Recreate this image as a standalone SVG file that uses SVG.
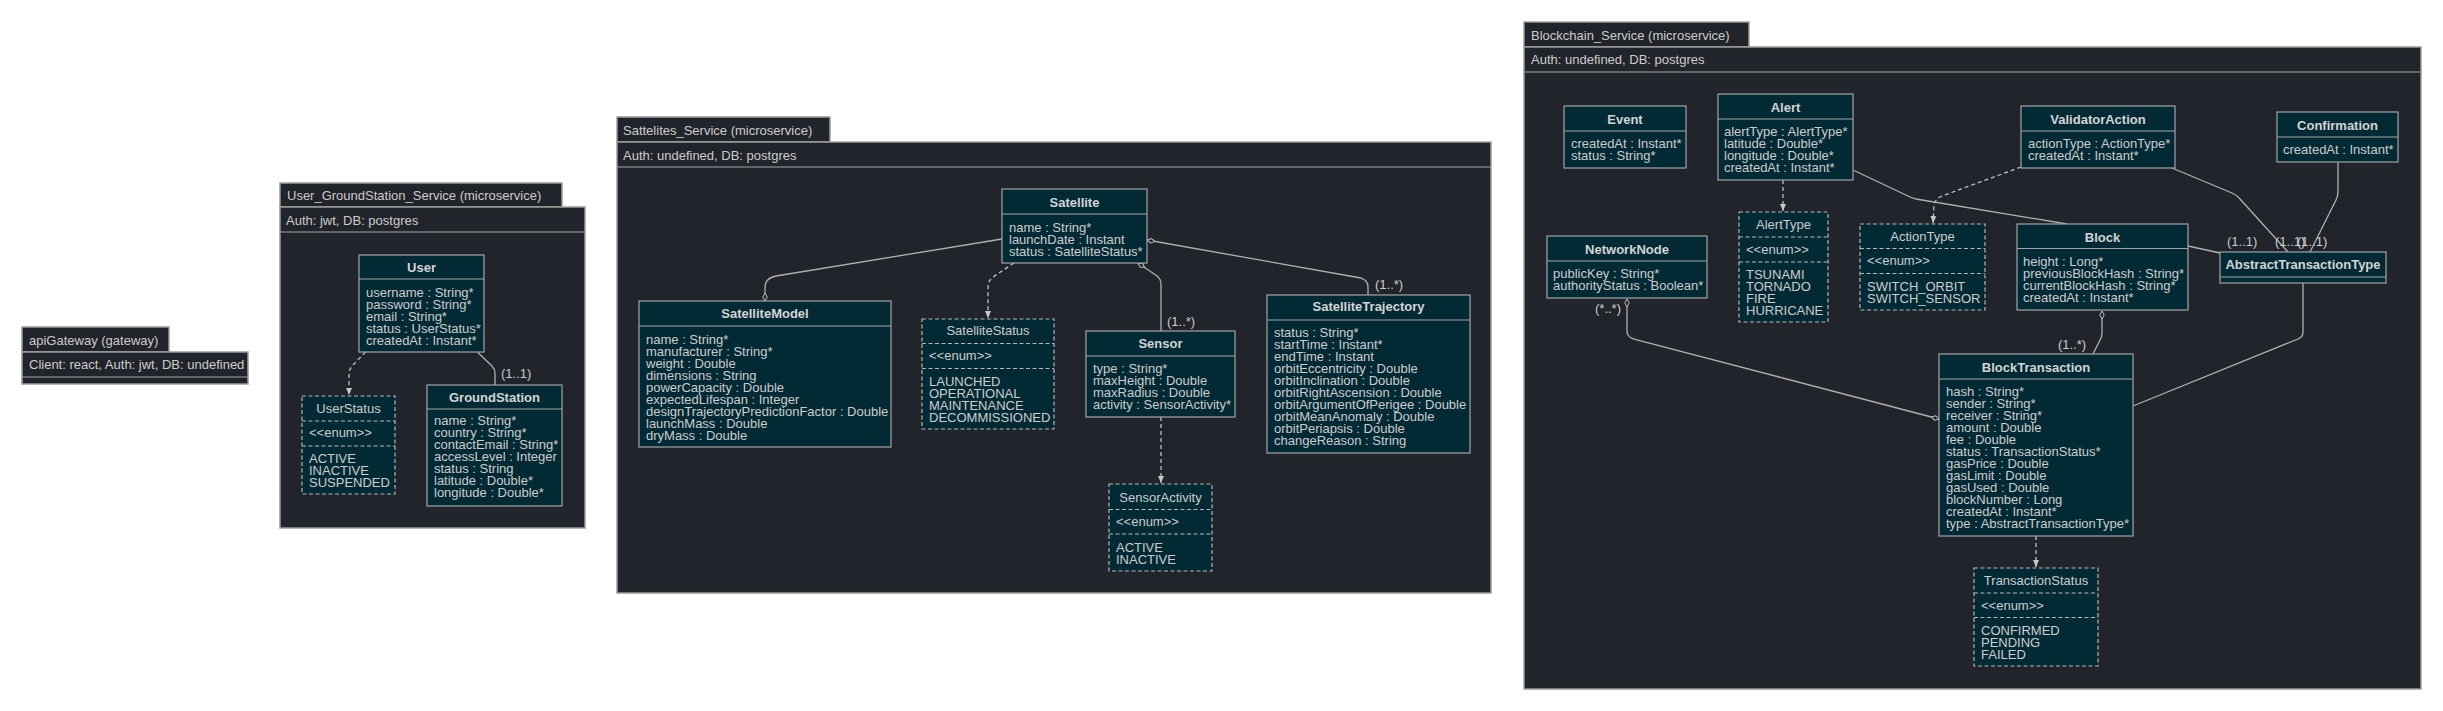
<svg xmlns="http://www.w3.org/2000/svg" width="2443" height="711" viewBox="0 0 2443 711">
<defs>
<style>
text{font-family:"Liberation Sans",Arial,sans-serif;font-size:13px;fill:#cccccc}
.pkg{fill:#22242b;stroke:#9c9c9c;stroke-width:1.5}
.cls{fill:#022a35;stroke:#a3a3a3;stroke-width:1.2}
.enm{fill:#022a35;stroke:#b5b5b5;stroke-width:1.2;stroke-dasharray:4 2.5}
.sep{stroke:#a3a3a3;stroke-width:1.2}
.sepd{stroke:#b5b5b5;stroke-width:1.2;stroke-dasharray:4 2.5}
.t{font-weight:bold;text-anchor:middle;fill:#d4d4d4}
.et{text-anchor:middle}
.c{fill:none;stroke:#b0b0b0;stroke-width:1.3}
.d{fill:none;stroke:#c0c0c0;stroke-width:1.3;stroke-dasharray:4 3}
</style>
<marker id="dS" markerUnits="userSpaceOnUse" markerWidth="9" markerHeight="6" viewBox="0 0 9 6" refX="0.5" refY="3" orient="auto"><path d="M0.5,3 L4.5,0.8 L8.5,3 L4.5,5.2 Z" fill="#22242b" stroke="#c0c0c0" stroke-width="1"/></marker>
<marker id="dE" markerUnits="userSpaceOnUse" markerWidth="9" markerHeight="6" viewBox="0 0 9 6" refX="8.5" refY="3" orient="auto"><path d="M0.5,3 L4.5,0.8 L8.5,3 L4.5,5.2 Z" fill="#22242b" stroke="#c0c0c0" stroke-width="1"/></marker>
<marker id="ar" markerUnits="userSpaceOnUse" markerWidth="8" markerHeight="7" viewBox="0 0 8 7" refX="7" refY="3.5" orient="auto"><path d="M0,0.5 L7,3.5 L0,6.5 Z" fill="#c8c8c8"/></marker>
</defs>

<g id="apiGateway">
<rect class="pkg" x="22" y="327" width="147" height="25"/>
<rect class="pkg" x="22" y="352" width="226" height="32"/>
<line class="sep" x1="22" y1="377" x2="248" y2="377"/>
<text x="29" y="345">apiGateway (gateway)</text>
<text x="29" y="369">Client: react, Auth: jwt, DB: undefined</text>
</g>

<g id="User_GroundStation_Service">
<rect class="pkg" x="280" y="183" width="282" height="24"/>
<rect class="pkg" x="280" y="207" width="305" height="321"/>
<line class="sep" x1="280" y1="232" x2="585" y2="232"/>
<text x="287" y="200">User_GroundStation_Service (microservice)</text>
<text x="286" y="225">Auth: jwt, DB: postgres</text>
</g>

<g id="Sattelites_Service">
<rect class="pkg" x="617" y="117" width="213" height="25"/>
<rect class="pkg" x="617" y="142" width="874" height="451"/>
<line class="sep" x1="617" y1="167" x2="1491" y2="167"/>
<text x="623" y="135">Sattelites_Service (microservice)</text>
<text x="623" y="160">Auth: undefined, DB: postgres</text>
</g>

<g id="Blockchain_Service">
<rect class="pkg" x="1524" y="22" width="225" height="25"/>
<rect class="pkg" x="1524" y="47" width="897" height="642"/>
<line class="sep" x1="1524" y1="72" x2="2421" y2="72"/>
<text x="1531" y="40">Blockchain_Service (microservice)</text>
<text x="1531" y="64">Auth: undefined, DB: postgres</text>
</g>

<g id="connectors">
<path class="d" d="M365.5,352 L352,366 Q349,370 349,375 L349,395" marker-end="url(#ar)"/>
<path class="c" d="M477.6,352.3 L492,366 Q495,369 495,373 L495,385"/>
<text x="501" y="378">(1..1)</text>
<path class="c" d="M765,301 L765,288 Q765,278 776,276 L1002,239" marker-start="url(#dS)"/>
<path class="d" d="M1014,263 L993,277 Q988,281 988,287 L988,318" marker-end="url(#ar)"/>
<path class="c" d="M1138,263 L1157,276 Q1161,279 1161,284 L1161,331" marker-start="url(#dS)"/>
<text x="1167" y="326">(1..*)</text>
<path class="c" d="M1147,240 L1361,278 Q1368,280 1368,287 L1368,295" marker-start="url(#dS)"/>
<text x="1375" y="289">(1..*)</text>
<path class="d" d="M1161,417 L1161,483" marker-end="url(#ar)"/>
<path class="d" d="M1783,180 L1783,211" marker-end="url(#ar)"/>
<path class="d" d="M2021,167 L1942,196 Q1935,199 1934,205 L1933,223" marker-end="url(#ar)"/>
<path class="c" d="M1853,170 L1908,196 Q1912,198 1916,199 L2067,224"/>
<path class="c" d="M2172,168 L2232,193 Q2237,195 2240,199 L2288,252"/>
<text x="2275" y="246">(1..1)</text>
<path class="c" d="M2338,162 L2338,191 Q2338,196 2336,200 L2310,252"/>
<text x="2297" y="246">(1..1)</text>
<path class="c" d="M2188,246 L2220,253"/>
<text x="2227" y="246">(1..1)</text>
<path class="c" d="M2102,311 L2102,333 Q2102,337 2100,340 L2093,354" marker-start="url(#dS)"/>
<text x="2058" y="348.5">(1..*)</text>
<path class="c" d="M2303,283 L2303,332 Q2303,337 2298,339 L2133,406"/>
<path class="c" d="M1627,299 L1627,331 Q1627,337 1634,339 L1939,419" marker-start="url(#dS)" marker-end="url(#dE)"/>
<text x="1595" y="313">(*..*)</text>
<path class="d" d="M2036,536 L2036,567" marker-end="url(#ar)"/>
</g>

<g id="User">
<rect class="cls" x="359" y="255" width="125" height="97"/>
<line class="sep" x1="359" y1="279" x2="484" y2="279"/>
<text class="t" x="421.5" y="272">User</text>
<text x="366" y="297">username : String*</text>
<text x="366" y="309">password : String*</text>
<text x="366" y="321">email : String*</text>
<text x="366" y="333">status : UserStatus*</text>
<text x="366" y="345">createdAt : Instant*</text>
</g>

<g id="UserStatus">
<rect class="enm" x="302" y="396" width="93" height="98"/>
<line class="sepd" x1="302" y1="421" x2="395" y2="421"/>
<line class="sepd" x1="302" y1="446" x2="395" y2="446"/>
<text class="et" x="348.5" y="412.5">UserStatus</text>
<text x="309" y="437">&lt;&lt;enum&gt;&gt;</text>
<text x="309" y="463">ACTIVE</text>
<text x="309" y="475">INACTIVE</text>
<text x="309" y="487">SUSPENDED</text>
</g>

<g id="GroundStation">
<rect class="cls" x="427" y="385" width="135" height="121"/>
<line class="sep" x1="427" y1="409" x2="562" y2="409"/>
<text class="t" x="494.5" y="402">GroundStation</text>
<text x="434" y="425">name : String*</text>
<text x="434" y="437">country : String*</text>
<text x="434" y="449">contactEmail : String*</text>
<text x="434" y="461">accessLevel : Integer</text>
<text x="434" y="473">status : String</text>
<text x="434" y="485">latitude : Double*</text>
<text x="434" y="497">longitude : Double*</text>
</g>

<g id="Satellite">
<rect class="cls" x="1002" y="189" width="145" height="74"/>
<line class="sep" x1="1002" y1="214" x2="1147" y2="214"/>
<text class="t" x="1074.5" y="207">Satellite</text>
<text x="1009" y="232">name : String*</text>
<text x="1009" y="244">launchDate : Instant</text>
<text x="1009" y="256">status : SatelliteStatus*</text>
</g>

<g id="SatelliteModel">
<rect class="cls" x="639" y="301" width="252" height="146"/>
<line class="sep" x1="639" y1="326" x2="891" y2="326"/>
<text class="t" x="765" y="317.5">SatelliteModel</text>
<text x="646" y="343.5">name : String*</text>
<text x="646" y="355.5">manufacturer : String*</text>
<text x="646" y="367.5">weight : Double</text>
<text x="646" y="379.5">dimensions : String</text>
<text x="646" y="391.5">powerCapacity : Double</text>
<text x="646" y="403.5">expectedLifespan : Integer</text>
<text x="646" y="415.5">designTrajectoryPredictionFactor : Double</text>
<text x="646" y="427.5">launchMass : Double</text>
<text x="646" y="439.5">dryMass : Double</text>
</g>

<g id="SatelliteStatus">
<rect class="enm" x="922" y="319" width="132" height="110"/>
<line class="sepd" x1="922" y1="343.5" x2="1054" y2="343.5"/>
<line class="sepd" x1="922" y1="368.5" x2="1054" y2="368.5"/>
<text class="et" x="988" y="335">SatelliteStatus</text>
<text x="929" y="360">&lt;&lt;enum&gt;&gt;</text>
<text x="929" y="385.5">LAUNCHED</text>
<text x="929" y="397.5">OPERATIONAL</text>
<text x="929" y="409.5">MAINTENANCE</text>
<text x="929" y="421.5">DECOMMISSIONED</text>
</g>

<g id="Sensor">
<rect class="cls" x="1086" y="331" width="149" height="86"/>
<line class="sep" x1="1086" y1="356" x2="1235" y2="356"/>
<text class="t" x="1160.5" y="347.5">Sensor</text>
<text x="1093" y="372.5">type : String*</text>
<text x="1093" y="384.5">maxHeight : Double</text>
<text x="1093" y="396.5">maxRadius : Double</text>
<text x="1093" y="408.5">activity : SensorActivity*</text>
</g>

<g id="SensorActivity">
<rect class="enm" x="1109" y="484" width="103" height="87"/>
<line class="sepd" x1="1109" y1="509.5" x2="1212" y2="509.5"/>
<line class="sepd" x1="1109" y1="534" x2="1212" y2="534"/>
<text class="et" x="1160.5" y="502">SensorActivity</text>
<text x="1116" y="526">&lt;&lt;enum&gt;&gt;</text>
<text x="1116" y="551.5">ACTIVE</text>
<text x="1116" y="563.5">INACTIVE</text>
</g>

<g id="SatelliteTrajectory">
<rect class="cls" x="1267" y="295" width="203" height="158"/>
<line class="sep" x1="1267" y1="320" x2="1470" y2="320"/>
<text class="t" x="1368.5" y="311">SatelliteTrajectory</text>
<text x="1274" y="337">status : String*</text>
<text x="1274" y="349">startTime : Instant*</text>
<text x="1274" y="361">endTime : Instant</text>
<text x="1274" y="373">orbitEccentricity : Double</text>
<text x="1274" y="385">orbitInclination : Double</text>
<text x="1274" y="397">orbitRightAscension : Double</text>
<text x="1274" y="409">orbitArgumentOfPerigee : Double</text>
<text x="1274" y="421">orbitMeanAnomaly : Double</text>
<text x="1274" y="433">orbitPeriapsis : Double</text>
<text x="1274" y="445">changeReason : String</text>
</g>

<g id="Event">
<rect class="cls" x="1564" y="106" width="122" height="62"/>
<line class="sep" x1="1564" y1="131" x2="1686" y2="131"/>
<text class="t" x="1625" y="124">Event</text>
<text x="1571" y="148">createdAt : Instant*</text>
<text x="1571" y="160">status : String*</text>
</g>

<g id="Alert">
<rect class="cls" x="1718" y="94" width="135" height="86"/>
<line class="sep" x1="1718" y1="119" x2="1853" y2="119"/>
<text class="t" x="1785.5" y="112">Alert</text>
<text x="1724" y="136">alertType : AlertType*</text>
<text x="1724" y="148">latitude : Double*</text>
<text x="1724" y="160">longitude : Double*</text>
<text x="1724" y="172">createdAt : Instant*</text>
</g>

<g id="AlertType">
<rect class="enm" x="1739" y="212" width="89" height="110"/>
<line class="sepd" x1="1739" y1="237" x2="1828" y2="237"/>
<line class="sepd" x1="1739" y1="262" x2="1828" y2="262"/>
<text class="et" x="1783.5" y="229">AlertType</text>
<text x="1746" y="253.5">&lt;&lt;enum&gt;&gt;</text>
<text x="1746" y="278.5">TSUNAMI</text>
<text x="1746" y="290.5">TORNADO</text>
<text x="1746" y="302.5">FIRE</text>
<text x="1746" y="314.5">HURRICANE</text>
</g>

<g id="ActionType">
<rect class="enm" x="1860" y="224" width="125" height="86"/>
<line class="sepd" x1="1860" y1="248.5" x2="1985" y2="248.5"/>
<line class="sepd" x1="1860" y1="273.5" x2="1985" y2="273.5"/>
<text class="et" x="1922.5" y="241">ActionType</text>
<text x="1867" y="265">&lt;&lt;enum&gt;&gt;</text>
<text x="1867" y="290.5">SWITCH_ORBIT</text>
<text x="1867" y="302.5">SWITCH_SENSOR</text>
</g>

<g id="NetworkNode">
<rect class="cls" x="1547" y="236" width="160" height="62"/>
<line class="sep" x1="1547" y1="261" x2="1707" y2="261"/>
<text class="t" x="1627" y="254">NetworkNode</text>
<text x="1553" y="277.5">publicKey : String*</text>
<text x="1553" y="289.5">authorityStatus : Boolean*</text>
</g>

<g id="ValidatorAction">
<rect class="cls" x="2021" y="106" width="154" height="62"/>
<line class="sep" x1="2021" y1="131" x2="2175" y2="131"/>
<text class="t" x="2098" y="124">ValidatorAction</text>
<text x="2028" y="148">actionType : ActionType*</text>
<text x="2028" y="160">createdAt : Instant*</text>
</g>

<g id="Confirmation">
<rect class="cls" x="2277" y="112" width="121" height="50"/>
<line class="sep" x1="2277" y1="137" x2="2398" y2="137"/>
<text class="t" x="2337.5" y="130">Confirmation</text>
<text x="2283" y="154">createdAt : Instant*</text>
</g>

<g id="Block">
<rect class="cls" x="2017" y="224" width="171" height="86"/>
<line class="sep" x1="2017" y1="248.5" x2="2188" y2="248.5"/>
<text class="t" x="2102.5" y="242">Block</text>
<text x="2023" y="266">height : Long*</text>
<text x="2023" y="278">previousBlockHash : String*</text>
<text x="2023" y="290">currentBlockHash : String*</text>
<text x="2023" y="302">createdAt : Instant*</text>
</g>

<g id="AbstractTransactionType">
<rect class="cls" x="2220" y="252" width="166" height="31"/>
<line class="sep" x1="2220" y1="277" x2="2386" y2="277"/>
<text class="t" x="2303" y="268.5">AbstractTransactionType</text>
</g>

<g id="BlockTransaction">
<rect class="cls" x="1939" y="354" width="194" height="182"/>
<line class="sep" x1="1939" y1="379" x2="2133" y2="379"/>
<text class="t" x="2036" y="372">BlockTransaction</text>
<text x="1946" y="396">hash : String*</text>
<text x="1946" y="408">sender : String*</text>
<text x="1946" y="420">receiver : String*</text>
<text x="1946" y="432">amount : Double</text>
<text x="1946" y="444">fee : Double</text>
<text x="1946" y="456">status : TransactionStatus*</text>
<text x="1946" y="468">gasPrice : Double</text>
<text x="1946" y="480">gasLimit : Double</text>
<text x="1946" y="492">gasUsed : Double</text>
<text x="1946" y="504">blockNumber : Long</text>
<text x="1946" y="516">createdAt : Instant*</text>
<text x="1946" y="528">type : AbstractTransactionType*</text>
</g>

<g id="TransactionStatus">
<rect class="enm" x="1974" y="568" width="124" height="98"/>
<line class="sepd" x1="1974" y1="593" x2="2098" y2="593"/>
<line class="sepd" x1="1974" y1="617.5" x2="2098" y2="617.5"/>
<text class="et" x="2036" y="585">TransactionStatus</text>
<text x="1981" y="609.5">&lt;&lt;enum&gt;&gt;</text>
<text x="1981" y="635">CONFIRMED</text>
<text x="1981" y="647">PENDING</text>
<text x="1981" y="659">FAILED</text>
</g>
</svg>
